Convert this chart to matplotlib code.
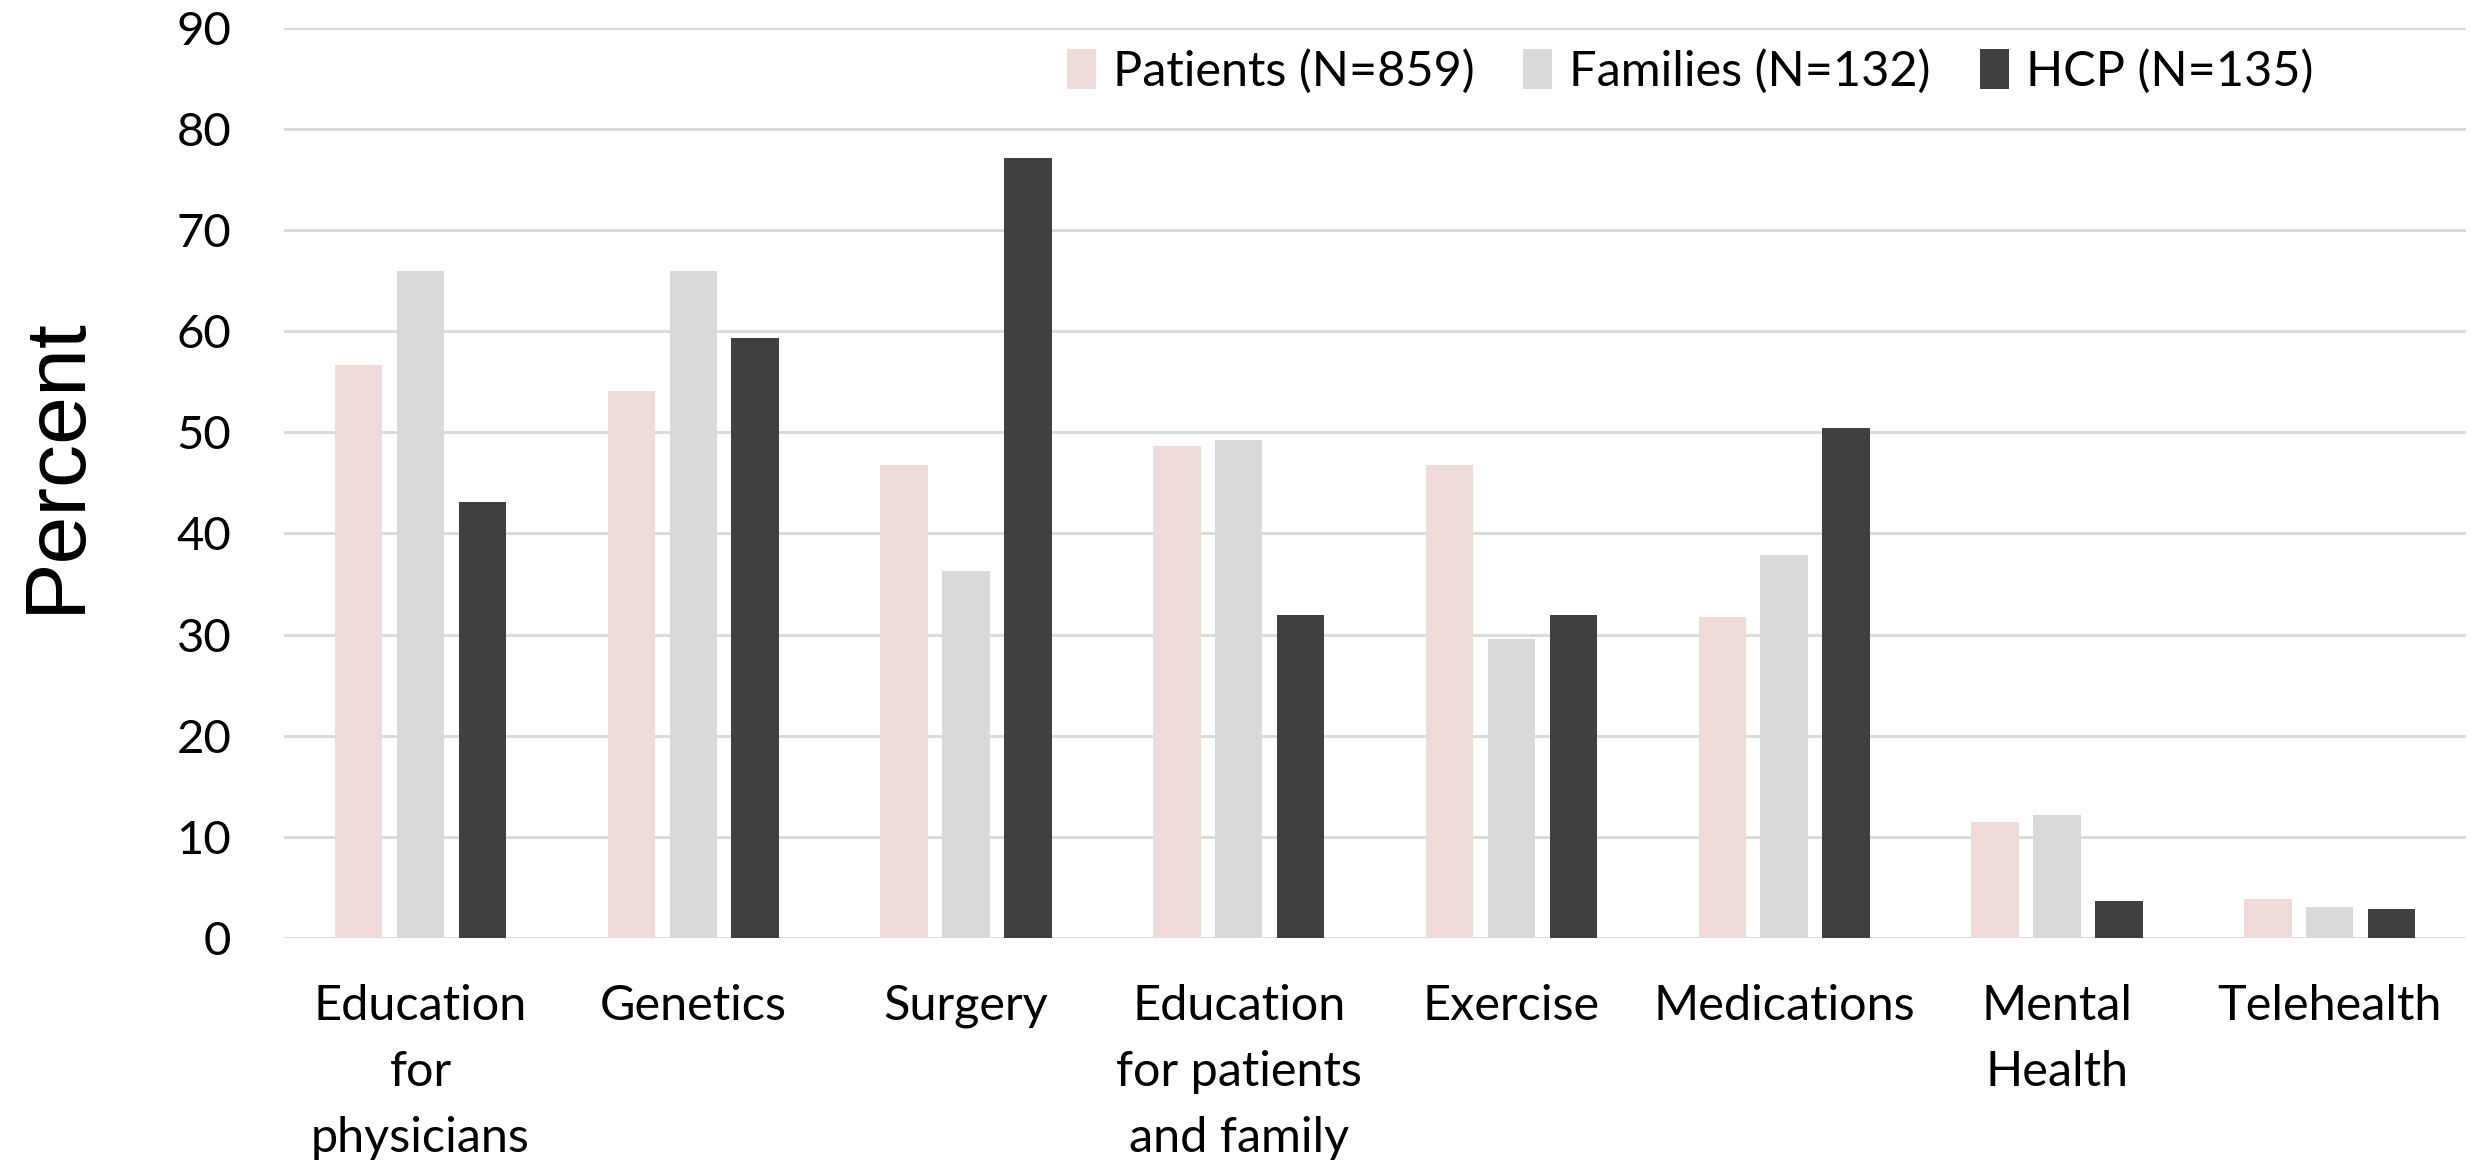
import matplotlib
matplotlib.use('Agg')
import matplotlib.pyplot as plt
import numpy as np

categories = ['Education\nfor\nphysicians', 'Genetics', 'Surgery',
              'Education\nfor patients\nand family', 'Exercise', 'Medications',
              'Mental\nHealth', 'Telehealth']
patients = [56.7, 54.1, 46.8, 48.6, 46.8, 31.7, 11.5, 3.8]
families = [66.0, 66.0, 36.3, 49.2, 29.6, 37.9, 12.1, 3.0]
hcp = [43.1, 59.3, 77.1, 31.9, 31.9, 50.4, 3.6, 2.9]
series_labels = ['Patients (N=859)', 'Families (N=132)', 'HCP (N=135)']
colors = ['#F0DBDB', '#D9D9D9', '#404040']

plt.rcParams['font.family'] = ['Lato', 'DejaVu Sans']

fig = plt.figure(figsize=(24.71, 11.65), dpi=100)
ax = fig.add_axes([0.115, 0.195, 0.883, 0.781])

x = np.arange(len(categories))
w = 0.174
pitch = 0.227
for i, (vals, lab, c) in enumerate(zip([patients, families, hcp], series_labels, colors)):
    ax.bar(x + (i - 1) * pitch, vals, width=w, color=c, label=lab, zorder=3)

ax.set_xlim(-0.5, len(categories) - 0.5)
ax.set_ylim(0, 90)
ax.set_yticks(range(0, 91, 10))
ax.grid(axis='y', color='#D9D9D9', linewidth=2, zorder=0)
for s in ax.spines.values():
    s.set_visible(False)
ax.tick_params(axis='both', length=0, colors='black')
ax.tick_params(axis='y', pad=38, labelsize=34)
ax.tick_params(axis='x', pad=33, labelsize=35)
ax.set_xticks(x)
ax.set_xticklabels(categories, linespacing=1.62)

ax.set_ylabel('Percent', fontsize=62, family=['Liberation Sans Narrow', 'Liberation Sans'])
ax.yaxis.set_label_coords(-0.086, 0.52)

ax.legend(loc='upper right', bbox_to_anchor=(0.95, 1.025), ncol=3, frameon=False,
          fontsize=35, handlelength=0.6, handleheight=0.9, handletextpad=0.35,
          columnspacing=1.0)

fig.savefig('out.png', dpi=100)
